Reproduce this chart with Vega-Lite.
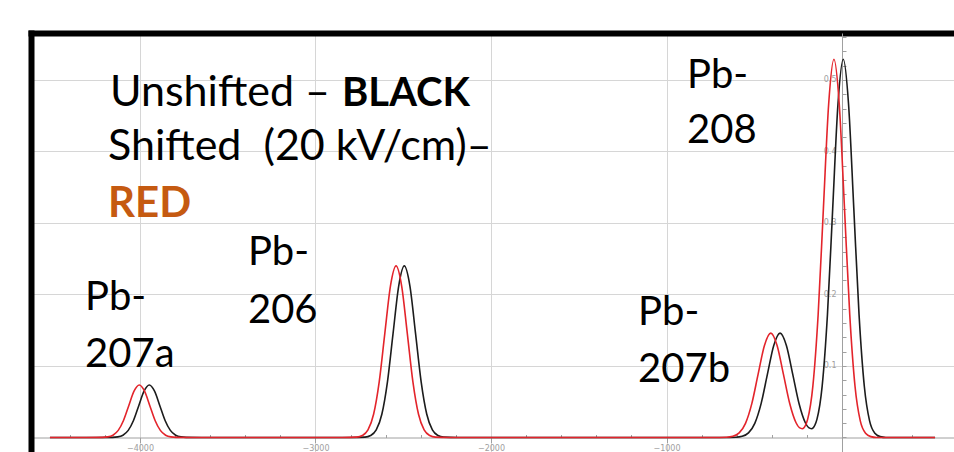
{
  "$schema": "https://vega.github.io/schema/vega-lite/v6.json",
  "width": 923,
  "height": 419,
  "autosize": {"type": "none"},
  "padding": {"left": 31, "top": 33, "right": 0, "bottom": 0},
  "background": "white",
  "config": {"view": {"stroke": null}, "axis": {"title": null}},
  "datasets": {
    "unshifted": [
      {"x": -4513, "y": 0}, {"x": -4250, "y": 0},
      {"x": -4157, "y": 0.0002}, {"x": -4127, "y": 0.0008}, {"x": -4097, "y": 0.0032}, {"x": -4067, "y": 0.0099},
      {"x": -4037, "y": 0.0238}, {"x": -4007, "y": 0.0445}, {"x": -3977, "y": 0.0648}, {"x": -3947, "y": 0.0734},
      {"x": -3917, "y": 0.0648}, {"x": -3887, "y": 0.0445}, {"x": -3857, "y": 0.0238}, {"x": -3827, "y": 0.0099},
      {"x": -3797, "y": 0.0032}, {"x": -3767, "y": 0.0008}, {"x": -3737, "y": 0.0002}, {"x": -3650, "y": 0},
      {"x": -2800, "y": 0},
      {"x": -2718, "y": 0.0005}, {"x": -2686, "y": 0.0027}, {"x": -2654, "y": 0.0105}, {"x": -2622, "y": 0.0325},
      {"x": -2590, "y": 0.0779}, {"x": -2558, "y": 0.1456}, {"x": -2526, "y": 0.2118}, {"x": -2494, "y": 0.240},
      {"x": -2462, "y": 0.2118}, {"x": -2430, "y": 0.1456}, {"x": -2398, "y": 0.0779}, {"x": -2366, "y": 0.0325},
      {"x": -2334, "y": 0.0105}, {"x": -2302, "y": 0.0027}, {"x": -2270, "y": 0.0005}, {"x": -2190, "y": 0},
      {"x": -680, "y": 0},
      {"x": -605, "y": 0.0003}, {"x": -569, "y": 0.0016}, {"x": -533, "y": 0.0064}, {"x": -497, "y": 0.0198},
      {"x": -461, "y": 0.0474}, {"x": -425, "y": 0.0886}, {"x": -389, "y": 0.1288}, {"x": -353, "y": 0.146},
      {"x": -317, "y": 0.1288}, {"x": -281, "y": 0.0886}, {"x": -245, "y": 0.0475}, {"x": -209, "y": 0.0206},
      {"x": -190, "y": 0.0137}, {"x": -173, "y": 0.0123}, {"x": -155, "y": 0.0171}, {"x": -143, "y": 0.0253},
      {"x": -113, "y": 0.0722}, {"x": -83, "y": 0.1719}, {"x": -53, "y": 0.3208}, {"x": -23, "y": 0.4668},
      {"x": 7, "y": 0.529}, {"x": 37, "y": 0.4668}, {"x": 67, "y": 0.3208}, {"x": 97, "y": 0.1718},
      {"x": 127, "y": 0.0716}, {"x": 157, "y": 0.0232}, {"x": 187, "y": 0.0059}, {"x": 217, "y": 0.0012},
      {"x": 250, "y": 0}, {"x": 530, "y": 0}
    ],
    "shifted": [
      {"x": -4513, "y": 0}, {"x": -4307, "y": 0},
      {"x": -4214, "y": 0.0002}, {"x": -4184, "y": 0.0008}, {"x": -4154, "y": 0.0032}, {"x": -4124, "y": 0.0099},
      {"x": -4094, "y": 0.0238}, {"x": -4064, "y": 0.0445}, {"x": -4034, "y": 0.0648}, {"x": -4004, "y": 0.0734},
      {"x": -3974, "y": 0.0648}, {"x": -3944, "y": 0.0445}, {"x": -3914, "y": 0.0238}, {"x": -3884, "y": 0.0099},
      {"x": -3854, "y": 0.0032}, {"x": -3824, "y": 0.0008}, {"x": -3794, "y": 0.0002}, {"x": -3707, "y": 0},
      {"x": -2847, "y": 0},
      {"x": -2765, "y": 0.0005}, {"x": -2733, "y": 0.0027}, {"x": -2701, "y": 0.0105}, {"x": -2669, "y": 0.0325},
      {"x": -2637, "y": 0.0779}, {"x": -2605, "y": 0.1456}, {"x": -2573, "y": 0.2118}, {"x": -2541, "y": 0.240},
      {"x": -2509, "y": 0.2118}, {"x": -2477, "y": 0.1456}, {"x": -2445, "y": 0.0779}, {"x": -2413, "y": 0.0325},
      {"x": -2381, "y": 0.0105}, {"x": -2349, "y": 0.0027}, {"x": -2317, "y": 0.0005}, {"x": -2237, "y": 0},
      {"x": -733, "y": 0},
      {"x": -658, "y": 0.0003}, {"x": -622, "y": 0.0016}, {"x": -586, "y": 0.0064}, {"x": -550, "y": 0.0198},
      {"x": -514, "y": 0.0474}, {"x": -478, "y": 0.0886}, {"x": -442, "y": 0.1288}, {"x": -406, "y": 0.146},
      {"x": -370, "y": 0.1288}, {"x": -334, "y": 0.0886}, {"x": -298, "y": 0.0475}, {"x": -262, "y": 0.0206},
      {"x": -243, "y": 0.0137}, {"x": -226, "y": 0.0123}, {"x": -208, "y": 0.0171}, {"x": -196, "y": 0.0253},
      {"x": -166, "y": 0.0722}, {"x": -136, "y": 0.1719}, {"x": -106, "y": 0.3208}, {"x": -76, "y": 0.4668},
      {"x": -46, "y": 0.529}, {"x": -16, "y": 0.4668}, {"x": 14, "y": 0.3208}, {"x": 44, "y": 0.1718},
      {"x": 74, "y": 0.0716}, {"x": 104, "y": 0.0232}, {"x": 134, "y": 0.0059}, {"x": 164, "y": 0.0012},
      {"x": 197, "y": 0}, {"x": 530, "y": 0}
    ],
    "notes": [
      {"t": "Unshifted \u2013", "x": -4171, "y": 0.4636, "k": "big"},
      {"t": "BLACK", "x": -2120, "y": 0.4636, "k": "bold"},
      {"t": "Shifted\u00a0 (20 kV/cm)\u2013", "x": -4182, "y": 0.3881, "k": "big"},
      {"t": "RED", "x": -4182, "y": 0.3084, "k": "red"},
      {"t": "Pb-", "x": -883, "y": 0.4888, "k": "plain"},
      {"t": "208", "x": -883, "y": 0.4119, "k": "plain"},
      {"t": "Pb-", "x": -3385, "y": 0.2413, "k": "plain"},
      {"t": "206", "x": -3385, "y": 0.1601, "k": "plain"},
      {"t": "Pb-", "x": -4313, "y": 0.1783, "k": "plain"},
      {"t": "207a", "x": -4313, "y": 0.0986, "k": "plain"},
      {"t": "Pb-", "x": -1162, "y": 0.1573, "k": "plain"},
      {"t": "207b", "x": -1162, "y": 0.0776, "k": "plain"}
    ]
  },
  "resolve": {"axis": {"x": "independent", "y": "independent"}},
  "layer": [
    {
      "data": {"name": "unshifted"},
      "mark": {"type": "line", "color": "#1c1c1c", "strokeWidth": 1.6, "interpolate": "monotone"},
      "encoding": {
        "x": {
          "field": "x", "type": "quantitative",
          "scale": {"domain": [-4621, 638], "nice": false, "zero": false},
          "axis": {"orient": "top", "domain": true, "domainColor": "black", "domainWidth": 6, "domainCap": "square",
                   "ticks": false, "labels": false, "grid": true, "values": [-4000, -3000, -2000, -1000],
                   "gridColor": "#d6d6d6", "gridWidth": 1, "title": null}
        },
        "y": {
          "field": "y", "type": "quantitative",
          "scale": {"domain": [-0.0203, 0.5657], "nice": false, "zero": false},
          "axis": {"orient": "left", "domain": true, "domainColor": "black", "domainWidth": 6, "domainCap": "square",
                   "ticks": false, "labels": false, "grid": true, "values": [0.1, 0.2, 0.3, 0.4, 0.5],
                   "gridColor": "#d6d6d6", "gridWidth": 1, "title": null}
        }
      }
    },
    {
      "data": {"name": "shifted"},
      "mark": {"type": "line", "color": "#e3242b", "strokeWidth": 1.6, "interpolate": "monotone"},
      "encoding": {
        "x": {
          "field": "x", "type": "quantitative",
          "scale": {"domain": [-4621, 638], "nice": false, "zero": false},
          "axis": {"orient": "bottom", "offset": -14.5, "grid": false,
                   "values": [-4400, -4200, -4000, -3800, -3600, -3400, -3200, -3000, -2800, -2600, -2400, -2200, -2000, -1800, -1600, -1400, -1200, -1000, -800, -600, -400, -200, 0, 200, 400],
                   "format": "d",
                   "labelExpr": "datum.value % 1000 === 0 && datum.value !== 0 ? datum.label : ''",
                   "domainColor": "#a0a0a0", "domainWidth": 1, "tickColor": "#a0a0a0",
                   "tickSize": {"condition": {"test": "datum.value % 1000 === 0", "value": 5}, "value": -3},
                   "labelColor": "#a0a0a0", "labelFont": "DejaVu Sans", "labelFontSize": 8, "labelPadding": 2,
                   "title": null}
        },
        "y": {
          "field": "y", "type": "quantitative",
          "scale": {"domain": [-0.0203, 0.5657], "nice": false, "zero": false},
          "axis": {"orient": "left", "offset": -811, "grid": false,
                   "values": [-0.02, 0, 0.02, 0.04, 0.06, 0.08, 0.1, 0.12, 0.14, 0.16, 0.18, 0.2, 0.22, 0.24, 0.26, 0.28, 0.3, 0.32, 0.34, 0.36, 0.38, 0.4, 0.42, 0.44, 0.46, 0.48, 0.5, 0.52, 0.54, 0.56],
                   "labelExpr": "datum.value > 0.05 && abs(datum.value * 10 - round(datum.value * 10)) < 0.001 ? format(datum.value, '.1f') : ''",
                   "domainColor": "#a0a0a0", "domainWidth": 1, "tickColor": "#a0a0a0", "tickSize": -4,
                   "labelColor": "#a0a0a0", "labelFont": "DejaVu Sans", "labelFontSize": 8, "labelPadding": 10,
                   "title": null}
        }
      }
    },
    {
      "data": {"name": "notes"},
      "transform": [{"filter": "datum.k === 'plain'"}],
      "mark": {"type": "text", "align": "left", "baseline": "alphabetic", "font": "Lato", "fontSize": 40, "color": "black"},
      "encoding": {
        "x": {"field": "x", "type": "quantitative", "axis": null},
        "y": {"field": "y", "type": "quantitative", "axis": null},
        "text": {"field": "t"}
      }
    },
    {
      "data": {"name": "notes"},
      "transform": [{"filter": "datum.k === 'big'"}],
      "mark": {"type": "text", "align": "left", "baseline": "alphabetic", "font": "Lato", "fontSize": 43, "color": "black"},
      "encoding": {
        "x": {"field": "x", "type": "quantitative", "axis": null},
        "y": {"field": "y", "type": "quantitative", "axis": null},
        "text": {"field": "t"}
      }
    },
    {
      "data": {"name": "notes"},
      "transform": [{"filter": "datum.k === 'bold'"}],
      "mark": {"type": "text", "align": "right", "baseline": "alphabetic", "font": "Lato", "fontSize": 40, "fontWeight": "bold", "color": "black"},
      "encoding": {
        "x": {"field": "x", "type": "quantitative", "axis": null},
        "y": {"field": "y", "type": "quantitative", "axis": null},
        "text": {"field": "t"}
      }
    },
    {
      "data": {"name": "notes"},
      "transform": [{"filter": "datum.k === 'red'"}],
      "mark": {"type": "text", "align": "left", "baseline": "alphabetic", "font": "Lato", "fontSize": 42, "fontWeight": "bold", "color": "#C55A11"},
      "encoding": {
        "x": {"field": "x", "type": "quantitative", "axis": null},
        "y": {"field": "y", "type": "quantitative", "axis": null},
        "text": {"field": "t"}
      }
    }
  ]
}
